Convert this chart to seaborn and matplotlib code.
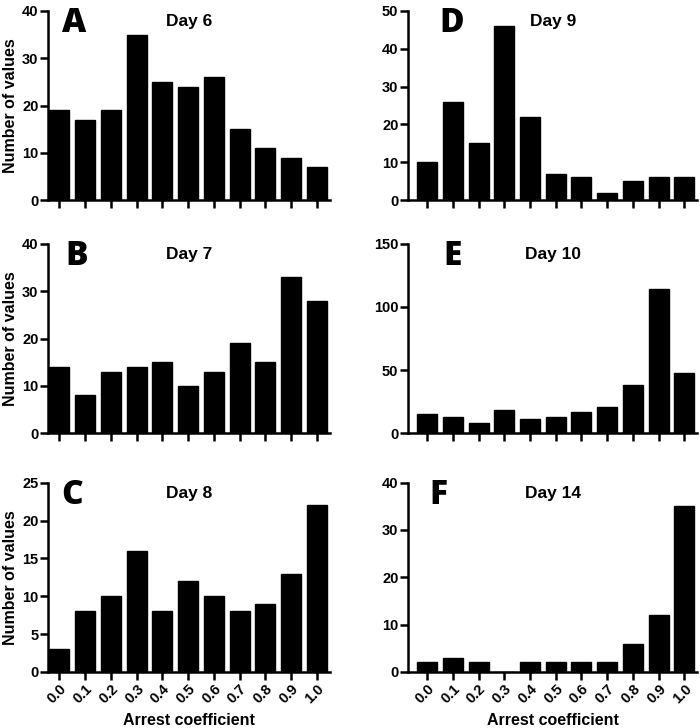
import matplotlib
matplotlib.use("Agg")
import matplotlib.pyplot as plt
import seaborn as sns
import numpy as np
import pandas as pd

# arrest coefficient bins
bins = ["0.0", "0.1", "0.2", "0.3", "0.4", "0.5", "0.6", "0.7", "0.8", "0.9", "1.0"]

# counts per bin
day6 = [19, 17, 19, 35, 25, 24, 26, 15, 11, 9, 7]
day7 = [14, 8, 13, 14, 15, 10, 13, 19, 15, 33, 28]
day8 = [3, 8, 10, 16, 8, 12, 10, 8, 9, 13, 22]
day9 = [10, 26, 15, 46, 22, 7, 6, 2, 5, 6, 6]
day10 = [15, 13, 8, 18, 11, 13, 17, 21, 38, 114, 48]
day14 = [2, 3, 2, 0, 2, 2, 2, 2, 6, 12, 35]

letters = ["A", "B", "C", "D", "E", "F"]
titles = ["Day 6", "Day 7", "Day 8", "Day 9", "Day 10", "Day 14"]
ymax = [40, 40, 25, 50, 150, 40]
ystep = [10, 10, 5, 10, 50, 10]

sns.set_style("ticks")
plt.rcParams['font.family'] = ['Liberation Sans', 'DejaVu Sans']
plt.rcParams['font.weight'] = 'bold'
# everything in plain black, like the original figure
plt.rcParams['text.color'] = 'black'
plt.rcParams['axes.labelcolor'] = 'black'
plt.rcParams['xtick.color'] = 'black'
plt.rcParams['ytick.color'] = 'black'

fig = plt.figure(figsize=(7, 7.28), dpi=100)

# axes boxes in figure fractions
col_left = [0.069, 0.583]
col_width = [0.402, 0.413]
row_bottom = [0.725, 0.405, 0.077]
row_height = 0.26

all_counts = [day6, day7, day8, day9, day10, day14]
# first bar sits right on the axis on the left, with a gap on the right
xlims = [(-0.43, 10.5), (-0.74, 10.5)]
letter_x = [0.09, 0.10, 0.085, 0.15, 0.155, 0.105]

for i, counts in enumerate(all_counts):
    col = i // 3
    row = i % 3
    ax = fig.add_axes([col_left[col], row_bottom[row], col_width[col], row_height])
    df = pd.DataFrame({"bin": bins, "count": counts})
    sns.barplot(data=df, x="bin", y="count", color="black", saturation=1,
                width=0.78, edgecolor="black", ax=ax)
    ax.set_xlim(*xlims[col])
    ax.set_ylim(0, ymax[i])
    ax.set_yticks(np.arange(0, ymax[i] + 1, ystep[i]))
    for s in ["top", "right"]:
        ax.spines[s].set_visible(False)
    for s in ["left", "bottom"]:
        ax.spines[s].set_linewidth(1.8)
        ax.spines[s].set_color("black")
    ax.tick_params(axis="both", width=1.8, length=6, color="black",
                   labelsize=10.5, pad=1)
    for lab in ax.get_yticklabels():
        lab.set_fontweight("bold")
    if row == 2:
        ax.set_xticks(range(len(bins)))
        ax.set_xticklabels(bins, rotation=45, ha="right", rotation_mode="anchor",
                           fontweight="bold", fontsize=10.5)
        ax.set_xlabel("Arrest coefficient", fontsize=11.5, fontweight="bold", labelpad=5)
    else:
        ax.set_xticklabels([])
        ax.set_xlabel("")
    if col == 0:
        ax.set_ylabel("Number of values", fontsize=11.5, fontweight="bold", labelpad=3)
    else:
        ax.set_ylabel("")
    ax.text(0.5, 0.985, titles[i], transform=ax.transAxes, ha="center", va="top",
            fontsize=12.5, fontweight="bold")
    ax.text(letter_x[i], 1.025, letters[i], transform=ax.transAxes, ha="center", va="top",
            fontsize=24, fontweight="heavy", family=["Open Sans", "DejaVu Sans"])

plt.savefig("out.png", dpi=100)
